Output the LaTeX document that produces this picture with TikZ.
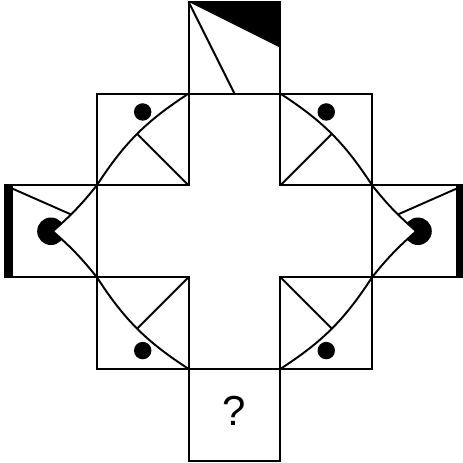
\documentclass[tikz,border=0pt]{standalone}
\usepackage{fontspec}
\setsansfont{Liberation Sans}
\begin{document}
\begin{tikzpicture}[line width=0.6pt, font=\sffamily\fontsize{13}{15}\selectfont]
  \useasboundingbox (-0.055,-0.025) rectangle (4.99,5.02);
  % side circles with their notches
  \fill (0.5,2.5) circle (0.15); \fill (4.5,2.5) circle (0.15);
  \fill[white] (1,3) to[bend left=5] (0.52,2.5) to[bend left=5] (1,2) -- cycle;
  \fill[white] (4,2) to[bend left=5] (4.48,2.5) to[bend left=5] (4,3) -- cycle;
  % bars and top triangle
  \fill (0,2) rectangle (0.09,3); \fill (4.91,2) rectangle (5,3);
  \fill (2,5) -- (3,5) -- (3,4.5) -- cycle;

  % squares
  \foreach \x/\y in {2/4, 1/3, 3/3, 0/2, 4/2, 1/1, 3/1, 2/0}
    \draw (\x,\y) rectangle ++(1,1);

  % left curve
  \draw (2,4) to[bend right=12] coordinate[pos=.5] (ul) (1,3)
        to[bend left=5] coordinate[pos=.62] (lt) (0.52,2.5)
        to[bend left=5] (1,2)
        to[bend right=12] coordinate[pos=.5] (ll) (2,1);
  % right curve
  \draw (3,1) to[bend right=12] coordinate[pos=.5] (lr) (4,2)
        to[bend left=5] (4.48,2.5)
        to[bend left=5] coordinate[pos=.38] (rt) (4,3)
        to[bend right=12] coordinate[pos=.5] (ur) (3,4);

  % strokes
  \draw (2,3) -- (ul); \draw (3,3) -- (ur);
  \draw (2,2) -- (ll); \draw (3,2) -- (lr);
  \draw (0,3) -- (lt); \draw (5,3) -- (rt);
  \draw (2,5) -- (2.5,4);

  % dots
  \fill (1.5,3.8) circle (0.095); \fill (3.5,3.8) circle (0.095);
  \fill (1.5,1.2) circle (0.095); \fill (3.5,1.2) circle (0.095);

  \node (q) at (2.5,0.54) {?};
\end{tikzpicture}
\end{document}
